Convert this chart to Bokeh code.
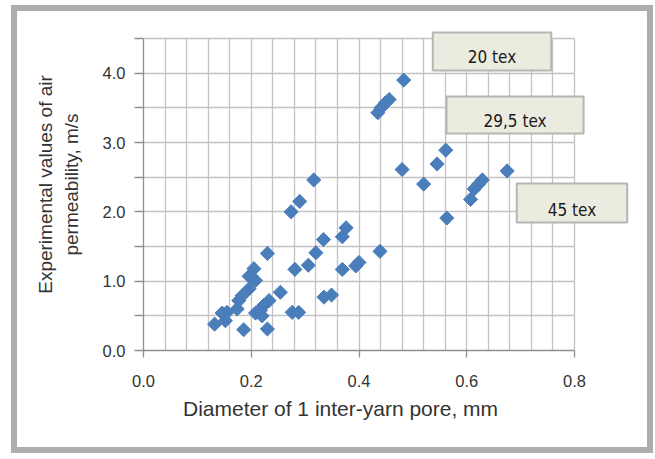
import math
from bokeh.plotting import figure
from bokeh.models import FixedTicker, Label, Range1d, NumeralTickFormatter, Title
from bokeh.embed import file_html
from bokeh.resources import INLINE

# Diameter of 1 inter-yarn pore, mm
diameter_mm = [0.132, 0.146, 0.152, 0.155, 0.174, 0.177, 0.183, 0.186, 0.196, 0.196,
               0.205, 0.208, 0.208, 0.217, 0.220, 0.223, 0.233, 0.230, 0.230, 0.254,
               0.274, 0.276, 0.288, 0.281, 0.290, 0.306, 0.316, 0.320, 0.334, 0.335,
               0.349, 0.369, 0.369, 0.376, 0.394, 0.400, 0.439, 0.435, 0.441, 0.449,
               0.456, 0.483, 0.480, 0.520, 0.545, 0.561, 0.563, 0.607, 0.614, 0.622,
               0.629, 0.675]
# Experimental values of air permeability, m/s
permeability = [0.38, 0.54, 0.43, 0.55, 0.60, 0.72, 0.79, 0.30, 0.89, 1.07,
                1.18, 1.01, 0.54, 0.58, 0.50, 0.65, 0.72, 0.31, 1.40, 0.84,
                2.00, 0.55, 0.55, 1.17, 2.15, 1.23, 2.46, 1.41, 1.60, 0.77,
                0.80, 1.17, 1.64, 1.77, 1.22, 1.27, 1.43, 3.43, 3.50, 3.57,
                3.62, 3.90, 2.61, 2.40, 2.69, 2.89, 1.91, 2.18, 2.33, 2.40,
                2.46, 2.59]

x_major_ticks = [0.0, 0.2, 0.4, 0.6, 0.8]
x_grid_ticks = [0.04, 0.08, 0.12, 0.16, 0.24, 0.28, 0.32, 0.36, 0.44, 0.48,
                0.52, 0.56, 0.64, 0.68, 0.72, 0.76]
y_major_ticks = [0.0, 1.0, 2.0, 3.0, 4.0]
y_minor_ticks = [0.5, 1.5, 2.5, 3.5, 4.5]
x_axis_span = (0.0, 0.8)
y_axis_span = (0.0, 4.5)

x_title = "Diameter of 1 inter-yarn pore, mm"
y_title = "Experimental values of air\npermeability, m/s"
series_labels = ["20 tex", "29,5 tex", "45 tex"]
label_x = [0.6469, 0.6896, 0.7953]
label_y = [4.313, 3.397, 2.127]
label_pad = [dict(left=35, right=35, top=15, bottom=3),
             dict(left=37, right=37, top=15, bottom=2),
             dict(left=31, right=31, top=16, bottom=3)]

TEXT = "#333333"
GRID = "#c3c3c3"
AXIS = "#8f8f8f"

# frame is wider/taller than the axes so that the text boxes are not clipped
p = figure(frame_width=500, frame_height=332,
           x_range=Range1d(0, 0.92807), y_range=Range1d(0, 4.7885),
           output_backend="svg", toolbar_location=None,
           min_border_left=126, min_border_right=4,
           min_border_top=7, min_border_bottom=97)
p.outline_line_color = None
p.styles = {"border": "6px solid #adadad", "margin-left": "11px", "margin-top": "5px"}

# x axis
p.xaxis.bounds = x_axis_span
p.xaxis.ticker = FixedTicker(ticks=x_major_ticks, minor_ticks=x_grid_ticks)
p.xaxis.formatter = NumeralTickFormatter(format="0.0")
p.xaxis.major_tick_out = 7
p.xaxis.major_tick_in = 0
p.xaxis.minor_tick_out = 0
p.xaxis.minor_tick_in = 0
p.xaxis.axis_line_color = AXIS
p.xaxis.major_tick_line_color = AXIS
p.xaxis.axis_line_width = 1.3
p.xaxis.major_tick_line_width = 1.3
p.xaxis.major_label_text_font = "Liberation Sans"
p.xaxis.major_label_text_font_size = "16.5px"
p.xaxis.major_label_text_color = TEXT
p.xaxis.major_label_standoff = 17

p.add_layout(Title(text=x_title, align="left", offset=39.5, standoff=10,
                   text_font="Liberation Sans", text_font_size="21px",
                   text_font_style="normal", text_color=TEXT), "below")

# y axis
p.yaxis.bounds = y_axis_span
p.yaxis.ticker = FixedTicker(ticks=y_major_ticks, minor_ticks=y_minor_ticks)
p.yaxis.formatter = NumeralTickFormatter(format="0.0")
p.yaxis.major_tick_out = 9
p.yaxis.major_tick_in = 0
p.yaxis.minor_tick_out = 9
p.yaxis.minor_tick_in = 0
p.yaxis.axis_line_color = AXIS
p.yaxis.major_tick_line_color = AXIS
p.yaxis.minor_tick_line_color = AXIS
p.yaxis.axis_line_width = 1.3
p.yaxis.major_tick_line_width = 1.3
p.yaxis.minor_tick_line_width = 1.3
p.yaxis.major_label_text_font = "Liberation Sans"
p.yaxis.major_label_text_font_size = "16.5px"
p.yaxis.major_label_text_color = TEXT
p.yaxis.major_label_standoff = 9
p.yaxis.axis_label = y_title
p.yaxis.axis_label_text_font = "Liberation Sans"
p.yaxis.axis_label_text_font_size = "19px"
p.yaxis.axis_label_text_font_style = "normal"
p.yaxis.axis_label_text_color = TEXT
p.yaxis.axis_label_standoff = 18

# grids
p.xgrid.grid_line_color = GRID
p.xgrid.minor_grid_line_color = GRID
p.ygrid.grid_line_color = GRID
p.ygrid.minor_grid_line_color = GRID
p.xgrid.bounds = x_axis_span
p.xgrid.cross_bounds = y_axis_span
p.ygrid.bounds = y_axis_span
p.ygrid.cross_bounds = x_axis_span
for g in (p.xgrid, p.ygrid):
    g.grid_line_width = 1.3
    g.minor_grid_line_width = 1.3

p.scatter(diameter_mm, permeability, marker="square", angle=math.pi / 4, size=10,
          fill_color="#4a7ebb", line_color="#4a7ebb")

for txt, lx, ly, pad in zip(series_labels, label_x, label_y, label_pad):
    p.add_layout(Label(x=lx, y=ly, text=txt, text_align="center", text_baseline="middle",
                       text_font="DejaVu Sans Condensed", text_font_size="17px",
                       text_color="#1a1a1a",
                       background_fill_color="#ecebe0", border_line_color="#b5b5b5",
                       border_line_width=2, padding=pad))

open("out.html", "w").write(file_html(p, INLINE))
